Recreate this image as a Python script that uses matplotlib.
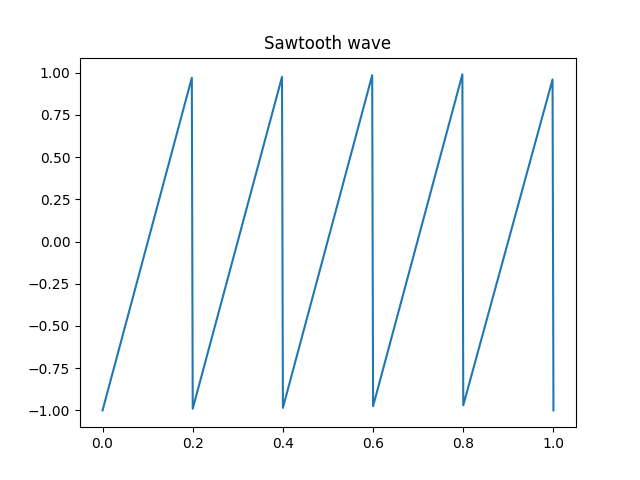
import matplotlib
matplotlib.use("Agg")
import matplotlib.pyplot as plt

# corner points of the wave
t_vals = [0.0, 0.198, 0.2, 0.398, 0.4, 0.598, 0.6, 0.798, 0.8, 0.998, 1.0]
y_vals = [-1.0, 0.97, -0.99, 0.975, -0.985, 0.985, -0.975, 0.99, -0.97, 0.96, -1.0]

fig, ax = plt.subplots(figsize=(6.4, 4.8), dpi=100)
ax.plot(t_vals, y_vals)
ax.set_title("Sawtooth wave")
fig.savefig("out.png")
